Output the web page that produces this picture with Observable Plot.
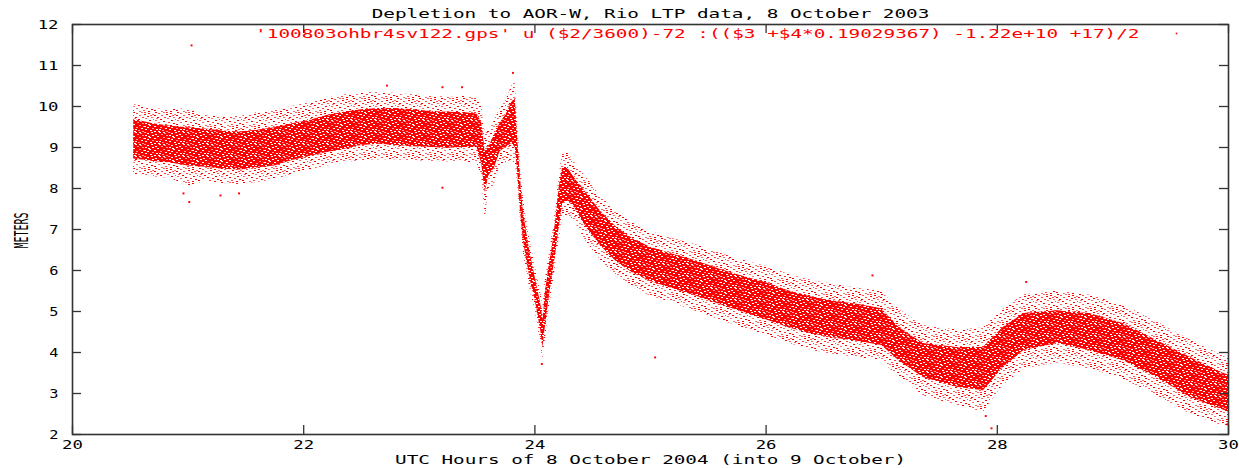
<!DOCTYPE html>
<html>
<head>
<meta charset="utf-8">
<script src="https://cdn.jsdelivr.net/npm/d3@7"></script>
<script src="https://cdn.jsdelivr.net/npm/@observablehq/plot@0.6"></script>
<style>
  html, body { margin: 0; padding: 0; background: #fff; }
</style>
</head>
<body>
<div id="chart"></div>
<script>
// ---- data (envelopes of the dense point cloud) ----
const hours   = [20.53,20.70,20.85,21.00,21.15,21.30,21.45,21.60,21.75,21.90,22.05,22.20,22.35,22.50,22.65,22.80,22.95,23.10,23.25,23.40,23.50,23.54,23.57,23.60,23.65,23.70,23.75,23.80,23.83,23.85,23.875,23.90,23.93,23.96,23.99,24.02,24.05,24.07,24.09,24.12,24.15,24.18,24.21,24.24,24.28,24.34,24.45,24.57,24.71,24.85,25.00,25.20,25.40,25.60,25.80,26.00,26.20,26.40,26.60,26.80,27.00,27.15,27.36,27.65,27.88,28.05,28.23,28.52,28.80,29.09,29.38,29.67,29.96,30.00];
const coreLo  = [8.72,8.66,8.62,8.55,8.52,8.47,8.45,8.50,8.55,8.68,8.78,8.88,8.95,9.05,9.08,9.05,9.02,9.00,8.98,9.00,9.00,8.60,7.90,8.30,8.50,8.90,9.00,9.10,9.00,8.44,7.46,6.73,6.24,5.76,5.44,5.02,4.54,4.12,4.61,5.27,5.83,6.41,7.05,7.63,7.71,7.54,7.03,6.60,6.20,5.93,5.73,5.55,5.37,5.17,4.98,4.80,4.60,4.45,4.35,4.27,4.17,3.80,3.39,3.15,3.07,3.63,4.05,4.22,4.05,3.80,3.39,2.90,2.59,2.55];
const coreHi  = [9.68,9.58,9.52,9.48,9.45,9.40,9.38,9.42,9.48,9.58,9.66,9.78,9.86,9.92,9.95,9.95,9.92,9.88,9.86,9.85,9.82,9.60,8.90,9.00,9.30,9.60,9.80,10.10,10.20,9.24,8.27,7.46,6.90,6.41,6.00,5.59,5.20,4.78,5.44,6.07,6.56,7.22,8.02,8.51,8.51,8.27,7.87,7.44,7.04,6.77,6.57,6.39,6.23,6.03,5.86,5.70,5.50,5.35,5.25,5.17,5.07,4.61,4.22,4.12,4.12,4.61,4.95,5.02,4.95,4.71,4.29,3.88,3.49,3.45];
const outerLo = [8.35,8.28,8.25,8.05,8.18,8.12,8.10,8.15,8.22,8.35,8.45,8.55,8.62,8.68,8.70,8.70,8.68,8.65,8.65,8.65,8.60,8.30,7.25,7.90,8.10,8.50,8.60,8.70,8.60,8.15,7.20,6.45,5.95,5.50,5.15,4.75,4.20,3.80,4.30,5.00,5.55,6.10,6.75,7.30,7.35,7.20,6.68,6.25,5.85,5.58,5.38,5.20,5.00,4.80,4.60,4.42,4.22,4.05,3.95,3.88,3.78,3.40,2.95,2.70,2.55,3.20,3.60,3.75,3.60,3.35,2.95,2.50,2.20,2.20];
const outerHi = [10.05,9.95,9.92,9.95,9.78,9.75,9.75,9.85,9.90,10.00,10.10,10.20,10.28,10.32,10.35,10.32,10.28,10.25,10.22,10.25,10.20,10.00,9.35,9.40,9.65,9.95,10.15,10.50,10.60,9.60,8.60,7.80,7.20,6.70,6.30,5.90,5.50,5.10,5.75,6.35,6.85,7.50,8.35,8.85,8.90,8.65,8.25,7.82,7.42,7.15,6.95,6.77,6.62,6.42,6.25,6.10,5.90,5.75,5.65,5.57,5.48,5.05,4.65,4.55,4.60,5.05,5.40,5.50,5.40,5.15,4.75,4.30,3.90,3.85];
// isolated points lying outside the cloud
const strayH = [21.03,20.96,21.01,21.28,21.44,23.20,22.72,23.20,23.37,23.81,24.06,25.04,26.92,27.95,27.90,28.25,29.99];
const strayV = [11.49,7.88,7.67,7.83,7.88,8.02,10.51,10.47,10.47,10.82,3.72,3.88,5.88,2.15,2.45,5.72,2.25];

const xTicks = [20,22,24,26,28,30];
const yTicks = [2,3,4,5,6,7,8,9,10,11,12];

const titleText  = "Depletion to AOR-W, Rio LTP data, 8 October 2003";
const keyText    = "'100803ohbr4sv122.gps' u ($2/3600)-72 :(($3 +$4*0.19029367) -1.22e+10 +17)/2";
const xLabelText = "UTC Hours of 8 October 2004 (into 9 October)";
const yLabelText = "METERS";

const bands = hours.map((h, i) => ({h, cLo: coreLo[i], cHi: coreHi[i], oLo: outerLo[i], oHi: outerHi[i]}));
const strays = strayH.map((h, i) => ({h, v: strayV[i]}));

const W = 1239, H = 468, mL = 72, mR = 11, mT = 24, mB = 34;
const pw = W - mL - mR, ph = H - mT - mB;
const RED = "#ff0000", INK = "#333";
const CELL = 11.67; // character cell width of the original bitmap font

const svg = Plot.plot({
  width: W, height: H,
  marginLeft: mL, marginRight: mR, marginTop: mT, marginBottom: mB,
  x: {domain: [20, 30]},
  y: {domain: [2, 12]},
  style: "font-family: 'DejaVu Sans Mono', 'Liberation Mono', monospace; font-size: 13px; color: #000; background: #fff; overflow: visible;",
  marks: [
    Plot.areaY(bands, {x: "h", y1: "oLo", y2: "oHi", fill: "url(#pSparse)"}),
    Plot.areaY(bands, {x: "h", y1: "cLo", y2: "cHi", fill: "url(#pDense)"}),
    Plot.dot(strays, {x: "h", y: "v", r: 1.1, symbol: "square", fill: RED, stroke: "none"}),
    Plot.frame({stroke: INK, strokeWidth: 1.6}),
    Plot.tickY(yTicks, {y: d => d, insetRight: pw - 9, stroke: INK, strokeWidth: 1.3}),
    Plot.tickY(yTicks, {y: d => d, insetLeft: pw - 9, stroke: INK, strokeWidth: 1.3}),
    Plot.tickX(xTicks, {x: d => d, insetTop: ph - 9, stroke: INK, strokeWidth: 1.3}),
    Plot.tickX(xTicks, {x: d => d, insetBottom: ph - 9, stroke: INK, strokeWidth: 1.3}),
    Plot.axisY({anchor: "left", ticks: yTicks, tickSize: 0, tickPadding: 14, tickFormat: d => String(d), label: null, fill: "#000"}),
    Plot.axisX({anchor: "bottom", ticks: xTicks, tickSize: 0, tickPadding: 5, tickFormat: d => String(d), label: null, fill: "#000"}),
    Plot.text([titleText], {text: d => d, frameAnchor: "top", lineAnchor: "middle", textAnchor: "middle", dy: -11, fill: "#000"}),
    Plot.text([keyText], {text: d => d, frameAnchor: "top-right", lineAnchor: "middle", textAnchor: "end", dx: -89, dy: 9, fill: RED}),
    Plot.dot([keyText], {frameAnchor: "top-right", dx: -52, dy: 9, r: 0.9, symbol: "square", fill: RED, stroke: "none"}),
    Plot.text([xLabelText], {text: d => d, frameAnchor: "bottom", lineAnchor: "middle", textAnchor: "middle", dy: 25.5, fill: "#000"}),
    Plot.text([yLabelText], {text: d => d, frameAnchor: "left", lineAnchor: "middle", textAnchor: "middle", dx: -51, dy: 1, rotate: -90, fill: "#000", fontSize: 19})
  ]
});

// texture patterns imitating the dotted look of the point cloud
const sparse = [[1,0,1],[9,0,.6],[16,1,1],[4,1,.7],[12,2,1],[20,2,.6],[0,3,1],[7,3,.7],[15,4,1],[19,5,.6],[3,5,1],[10,5,.8],[13,6,.6],[6,7,1],[21,7,.7],[1,8,.6],[17,8,1],[9,9,1],[4,10,.6],[14,10,.8],[19,11,1],[11,12,.7],[0,12,1],[7,13,.6],[16,13,1],[2,6,.6],[12,0,.8],[18,3,.7]];
const dense = [[0,0],[7,0],[15,0],[20,1],[3,1],[11,2],[17,2],[1,3],[8,3],[22,3],[13,4],[5,5],[19,5],[10,6],[0,6],[16,7],[3,7],[21,8],[8,8],[12,9],[1,9],[18,10],[6,10],[14,11],[22,11],[10,11],[4,4],[23,6],[15,9],[19,0]];
svg.insertAdjacentHTML("afterbegin", `
<defs>
  <pattern id="pSparse" width="22" height="14" patternUnits="userSpaceOnUse">
    <g fill="${RED}">${sparse.map(([x, y, o]) => `<rect x="${x}" y="${y}" width="2" height="1" opacity="${o}"/>`).join("")}</g>
  </pattern>
  <pattern id="pDense" width="24" height="12" patternUnits="userSpaceOnUse">
    <rect width="24" height="12" fill="${RED}"/>
    <g fill="#fff">${dense.map(([x, y], i) => `<rect x="${x}" y="${y}" width="2" height="1" opacity="${i % 3 ? 1 : 0.6}"/>`).join("")}</g>
  </pattern>
</defs>`);

// the original uses a wide bitmap font: stretch every text to its character cells
for (const t of svg.querySelectorAll("text")) {
  const s = t.textContent;
  if (!s) continue;
  t.style.letterSpacing = "0px";
  t.setAttribute("lengthAdjust", "spacingAndGlyphs");
  t.setAttribute("textLength", s === yLabelText ? "36" : String((s.length * CELL - 2.5).toFixed(1)));
}

document.getElementById("chart").appendChild(svg);
</script>
</body>
</html>
